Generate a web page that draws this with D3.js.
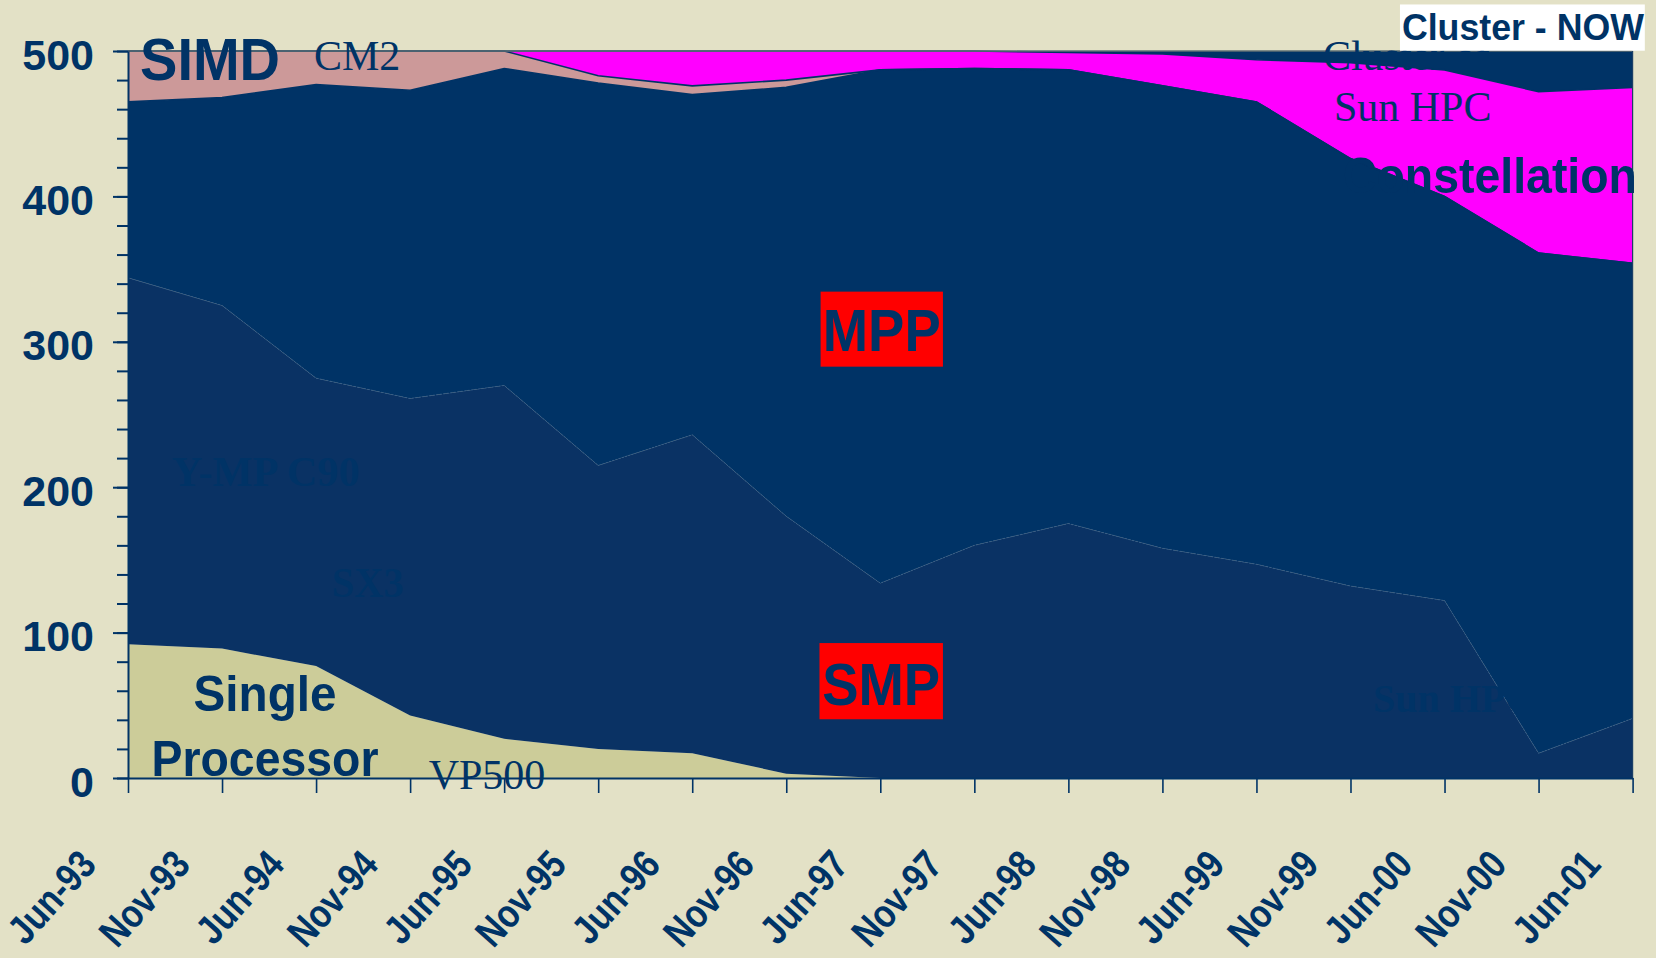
<!DOCTYPE html>
<html>
<head>
<meta charset="utf-8">
<script src="https://cdn.jsdelivr.net/npm/d3@7"></script>
<style>
  html, body { margin: 0; padding: 0; background: #E3E1C6; }
  svg { display: block; }
  text { fill: #003366; }
</style>
</head>
<body>
<svg id="chart" width="1656" height="958"></svg>
<script>
// TOP500 systems by architecture class, June 1993 - June 2001
const categories = ["Jun-93","Nov-93","Jun-94","Nov-94","Jun-95","Nov-95","Jun-96","Nov-96",
                    "Jun-97","Nov-97","Jun-98","Nov-98","Jun-99","Nov-99","Jun-00","Nov-00","Jun-01"];
const singleProcessor = [92, 89, 77, 43, 27, 20, 17, 3, 0, 0, 0, 0, 0, 0, 0, 0, 0];
const smp             = [252, 236, 198, 218, 243, 195, 219, 177, 134, 160, 175, 158, 147, 132, 122, 17, 41];
const mpp             = [121, 143, 202, 212, 218, 263, 234, 295, 353, 328, 312, 318, 318, 294, 278, 344, 313];
const simd            = [35, 32, 23, 27, 12, 5, 6, 5, 0, 0, 0, 0, 0, 0, 0, 0, 0];
const constellation   = [0, 0, 0, 0, 0, 17, 24, 20, 13, 12, 12, 22, 29, 66, 87, 111, 121];
const cluster         = [0, 0, 0, 0, 0, 0, 0, 0, 0, 0, 1, 2, 6, 8, 13, 28, 25];
const yTickLabels     = [0, 100, 200, 300, 400, 500];

const NAVY = "#003366";
const svg = d3.select("#chart");

const x = d3.scalePoint().domain(categories).range([128, 1632.6]);
const y = d3.scaleLinear().domain([0, 500]).range([778, 51]);
// position at a fractional category index
const xi = i => x(categories[0]) + i * x.step();

const rows = categories.map((c, i) => ({
  cat: c,
  single: singleProcessor[i], smp: smp[i], mpp: mpp[i],
  simd: simd[i], constellation: constellation[i], cluster: cluster[i]
}));
const keys = ["single", "smp", "mpp", "simd", "constellation", "cluster"];
const fills = {
  single: "#CCCC99", smp: "#0A3264", mpp: NAVY,
  simd: "#CC9999", constellation: "#FF00FF", cluster: NAVY
};
const series = d3.stack().keys(keys)(rows);

const area = d3.area()
  .x(d => x(d.data.cat))
  .y0(d => y(d[0]))
  .y1(d => y(d[1]));
const topLine = d3.line()
  .x(d => x(d.data.cat))
  .y(d => y(d[1]));

const gAreas = svg.append("g");
gAreas.selectAll("path.layer")
  .data(series)
  .join("path")
  .attr("class", "layer")
  .attr("d", area)
  .attr("fill", s => fills[s.key]);

// faint dotted boundary between SMP and MPP
gAreas.append("path")
  .datum(series[1])
  .attr("d", topLine)
  .attr("fill", "none")
  .attr("stroke", "#3a5f8a")
  .attr("stroke-width", 0.8)
  .attr("stroke-dasharray", "2,1.5");

// dark outlines on the upper layers
[series[2], series[3], series[4]].forEach(s => {
  gAreas.append("path")
    .datum(s)
    .attr("d", topLine)
    .attr("fill", "none")
    .attr("stroke", NAVY)
    .attr("stroke-width", 1.6);
});

// top edge of the plot
svg.append("line")
  .attr("x1", x(categories[0])).attr("x2", x(categories[categories.length - 1]))
  .attr("y1", y(500)).attr("y2", y(500))
  .attr("stroke", "#5f6f73").attr("stroke-width", 1.6);

// right edge of the plot
svg.append("line")
  .attr("x1", x(categories[categories.length - 1])).attr("x2", x(categories[categories.length - 1]))
  .attr("y1", y(500)).attr("y2", y(0))
  .attr("stroke", "#1c3f66").attr("stroke-width", 1.2);

// y axis: minor ticks every 20, labelled majors every 100
const gY = svg.append("g").attr("transform", `translate(${x(categories[0])},0)`);
gY.append("g")
  .call(d3.axisLeft(y).tickValues(d3.range(0, 501, 20)).tickSize(11).tickSizeOuter(0).tickFormat(""))
  .call(g => g.select(".domain").remove())
  .call(g => g.selectAll("line").attr("stroke", NAVY).attr("stroke-width", 2));
gY.append("g")
  .call(d3.axisLeft(y).tickValues(yTickLabels).tickSize(15).tickSizeOuter(0).tickPadding(19))
  .call(g => g.select(".domain").attr("stroke", NAVY).attr("stroke-width", 2))
  .call(g => g.selectAll("line").attr("stroke", NAVY).attr("stroke-width", 2))
  .call(g => g.selectAll("text")
    .attr("fill", NAVY)
    .attr("dy", "0.42em")
    .style("font-family", "'Liberation Sans', Arial, sans-serif")
    .style("font-weight", "bold")
    .style("font-size", "43px"));

// x axis
const gX = svg.append("g").attr("transform", `translate(0,${y(0)})`);
gX.call(d3.axisBottom(x).tickSize(15).tickSizeOuter(0).tickFormat(""))
  .call(g => g.select(".domain").attr("stroke", NAVY).attr("stroke-width", 2))
  .call(g => g.selectAll("line").attr("stroke", NAVY).attr("stroke-width", 1.6));

svg.append("g").selectAll("text")
  .data(categories)
  .join("text")
  .attr("transform", c => `translate(${x(c) - 30},866) rotate(-48) scale(0.84,1)`)
  .attr("text-anchor", "end")
  .style("font-family", "'Liberation Sans', Arial, sans-serif")
  .style("font-weight", "bold")
  .style("font-size", "40px")
  .text(c => c);

// annotations
const SANS = "'Liberation Sans', Arial, sans-serif";
const SERIF = "'Liberation Serif', 'Times New Roman', serif";
function label(txt, i, v, opts) {
  const t = svg.append("text")
    .attr("x", xi(i)).attr("y", y(v))
    .style("font-family", opts.serif ? SERIF : SANS)
    .style("font-weight", opts.bold ? "bold" : "normal")
    .style("font-size", opts.size + "px")
    .attr("text-anchor", opts.anchor || "start")
    .text(txt);
  if (opts.len) t.attr("textLength", opts.len).attr("lengthAdjust", "spacingAndGlyphs");
  if (opts.fill) t.style("fill", opts.fill);
  return t;
}

label("SIMD", 0.128, 480, { bold: true, size: 60, len: 140 });
label("CM2", 1.978, 487, { serif: true, size: 42 });
label("Y-MP C90", 0.465, 200.7, { serif: true, bold: true, size: 42, len: 188 });
label("SX3", 2.166, 124.2, { serif: true, bold: true, size: 42, len: 72 });
label("Sun HPC", 13.239, 45.6, { serif: true, bold: true, size: 40 });
label("Single", 1.457, 46, { bold: true, size: 50, len: 143, anchor: "middle" });
label("Processor", 1.457, 1.4, { bold: true, size: 50, len: 227, anchor: "middle" });
label("VP500", 3.197, -7.6, { serif: true, size: 42 });
label("Constellation", 12.92, 402.2, { bold: true, size: 50, len: 294 });
label("Sun HPC", 12.824, 451.9, { serif: true, size: 42 });
label("Cluster of", 12.707, 487, { serif: true, size: 42 });

// red class boxes
function redBox(txt, i0, i1, v0, v1, vText) {
  svg.append("rect")
    .attr("x", xi(i0)).attr("y", y(v1))
    .attr("width", xi(i1) - xi(i0)).attr("height", y(v0) - y(v1))
    .attr("fill", "#FF0000");
  label(txt, (i0 + i1) / 2, vText, { bold: true, size: 60, len: 118, anchor: "middle" });
}
redBox("MPP", 7.365, 8.666, 282.9, 334.5, 293.5);
redBox("SMP", 7.353, 8.666, 40.4, 92.8, 50.2);

// white tag in the corner
svg.append("rect")
  .attr("x", xi(13.526)).attr("y", y(532))
  .attr("width", xi(16.13) - xi(13.526)).attr("height", y(500.2) - y(532))
  .attr("fill", "#FFFFFF");
label("Cluster - NOW", 13.547, 507.4, { bold: true, size: 36, len: 242 });
</script>
</body>
</html>
